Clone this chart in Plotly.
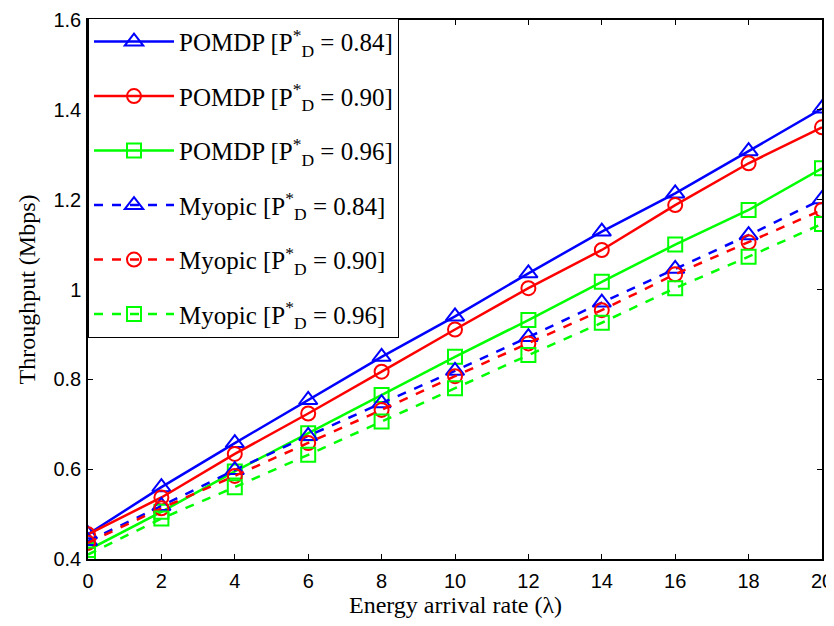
import plotly.graph_objects as go

x_vals = [0, 2, 4, 6, 8, 10, 12, 14, 16, 18, 20]

pomdp_084 = [0.455, 0.560, 0.658, 0.754, 0.850, 0.940, 1.036, 1.129, 1.214, 1.308, 1.403]
pomdp_090 = [0.455, 0.537, 0.634, 0.724, 0.817, 0.911, 1.003, 1.088, 1.188, 1.281, 1.361]
pomdp_096 = [0.420, 0.505, 0.595, 0.680, 0.765, 0.850, 0.932, 1.017, 1.100, 1.177, 1.270]
myopic_084 = [0.440, 0.518, 0.598, 0.674, 0.747, 0.819, 0.894, 0.971, 1.046, 1.121, 1.201]
myopic_090 = [0.436, 0.513, 0.585, 0.658, 0.732, 0.807, 0.880, 0.954, 1.034, 1.105, 1.177]
myopic_096 = [0.410, 0.490, 0.560, 0.632, 0.706, 0.780, 0.854, 0.926, 1.003, 1.073, 1.146]

names = [
    "POMDP [P<sup>*</sup><sub>D</sub> = 0.84]",
    "POMDP [P<sup>*</sup><sub>D</sub> = 0.90]",
    "POMDP [P<sup>*</sup><sub>D</sub> = 0.96]",
    "Myopic [P<sup>*</sup><sub>D</sub> = 0.84]",
    "Myopic [P<sup>*</sup><sub>D</sub> = 0.90]",
    "Myopic [P<sup>*</sup><sub>D</sub> = 0.96]",
]
series = [pomdp_084, pomdp_090, pomdp_096, myopic_084, myopic_090, myopic_096]
colors = ["#0000FF", "#FF0000", "#00FF00", "#0000FF", "#FF0000", "#00FF00"]
symbols = ["triangle-up-open", "circle-open", "square-open"] * 2
sizes = [16, 14, 14] * 2
dashes = ["solid"] * 3 + ["dash"] * 3

fig = go.Figure()
for i, (name, ys, c, s, sz, d) in enumerate(zip(names, series, colors, symbols, sizes, dashes)):
    fig.add_trace(go.Scatter(
        x=x_vals, y=ys, name=name, mode="lines+markers", legendgroup=f"g{i}",
        line=dict(color=c, width=2.5, dash=d),
        marker=dict(symbol=s, size=sz, color=c, line=dict(color=c, width=2)),
    ))

axis_common = dict(
    showline=True, linecolor="black", linewidth=1.5, mirror="ticks",
    ticks="inside", ticklen=5, tickcolor="black", tickwidth=1,
    showgrid=False, zeroline=False, automargin=False,
    tickfont=dict(family="Liberation Sans, Arial", size=20, color="black"),
)

title_font = dict(family="Liberation Serif, Times New Roman", size=24, color="black")

fig.update_layout(
    width=826, height=610,
    margin=dict(l=80, r=12, t=12, b=59, autoexpand=False),
    plot_bgcolor="white", paper_bgcolor="white",
    xaxis=dict(range=[0, 20], dtick=2, tick0=0, ticklabelstandoff=3,
               ticklabeloverflow="allow", **axis_common),
    yaxis=dict(range=[0.4, 1.6], tickvals=[0.4, 0.6, 0.8, 1.0, 1.2, 1.4, 1.6],
               ticktext=["0.4", "0.6", "0.8", "1", "1.2", "1.4", "1.6"],
               ticklabelstandoff=1, **axis_common),
    legend=dict(x=0, y=1.004, xanchor="left", yanchor="top",
                bgcolor="white", bordercolor="black", borderwidth=1,
                font=dict(family="Liberation Serif, Times New Roman", size=25, color="black"),
                itemwidth=80, tracegroupgap=19, maxheight=900),
    showlegend=True,
    annotations=[
        dict(text="Energy arrival rate (λ)", x=0.5, y=0, xref="paper", yref="paper",
             xanchor="center", yanchor="top", yshift=-31, showarrow=False, font=title_font),
        dict(text="Throughput (Mbps)", x=0, y=0.5, xref="paper", yref="paper",
             xanchor="center", yanchor="middle", xshift=-62, textangle=-90,
             showarrow=False, font=title_font),
    ],
)

fig.write_html("out.html")
